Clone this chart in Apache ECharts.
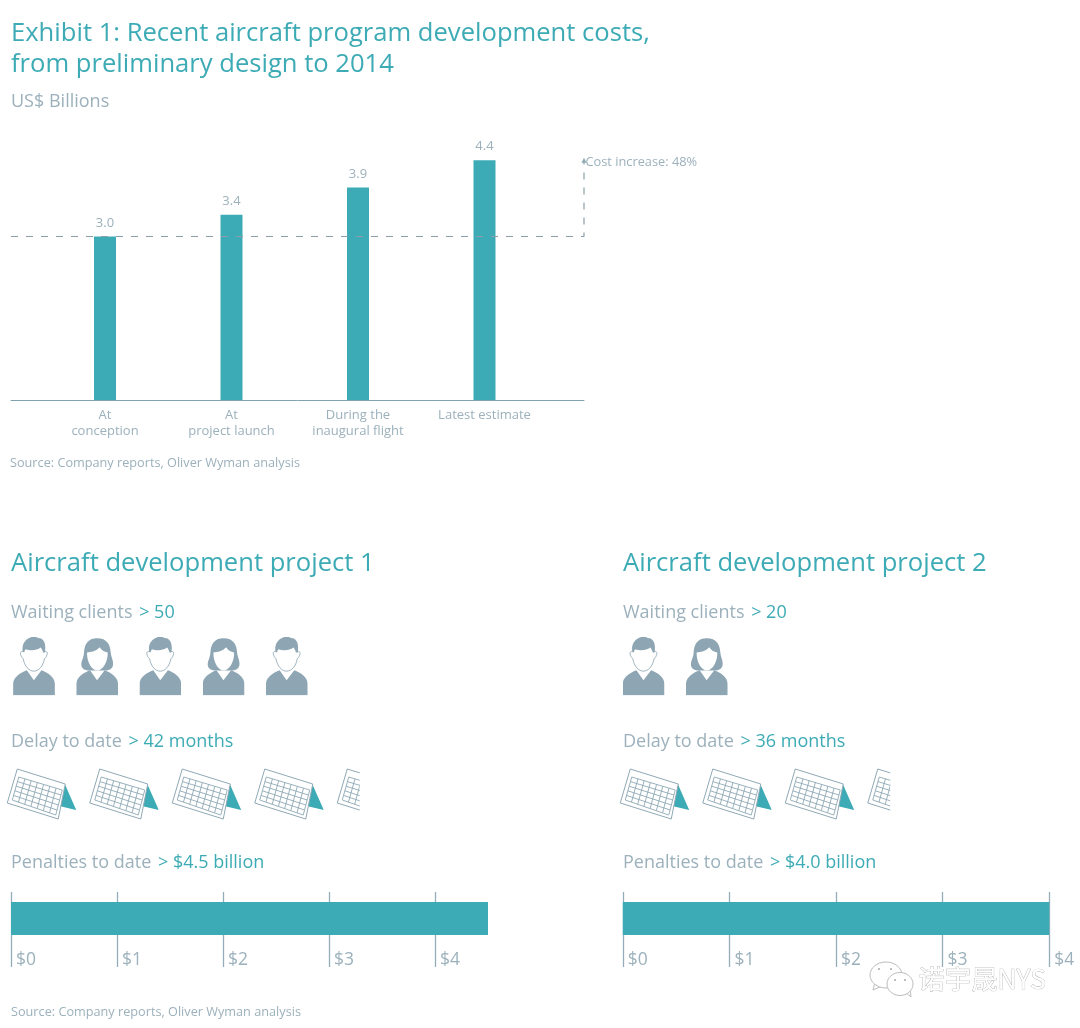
<!DOCTYPE html>
<html><head><meta charset="utf-8">
<style>html,body{margin:0;padding:0;background:#fff}#c{width:1080px;height:1028px}</style>
<script src="https://cdn.jsdelivr.net/npm/echarts@6/dist/echarts.min.js"></script>
</head><body><div id="c"></div>
<script>
// ---- data ----
const stageLabels = ['At\nconception', 'At\nproject launch', 'During the\ninaugural flight', 'Latest estimate'];
const costValues = [3.0, 3.4, 3.9, 4.4];
const referencePath = [[0, 3.0], [1, 3.0], [1, 4.4]];
const costNote = 'Cost increase: 48%';
const clientIconsP1 = ['m', 'f', 'm', 'f', 'm'];
const clientIconsP2 = ['m', 'f'];
const calendarIconsP1 = 4.36;
const calendarIconsP2 = 3.36;
const penaltyP1 = 4.5;
const penaltyP2 = 4.0;
const penaltyTicks = [0, 1, 2, 3, 4];
const penaltyAxisMaxP1 = 5;
const penaltyAxisMaxP2 = 4;

const TEAL = '#3dabb5', BAR = '#3cabb5', GREY = '#9cb1bc', ICON = '#8ea6b3', LINE = '#8fa8b4';
const FONT = '"Open Sans","Noto Sans",sans-serif';

// ---- icons ----
const BODY = 'M0 176V142C0 122 22 108 41 101L62 131L85 101C104 108 125 122 125 142V176Z';
const svgMale = `<svg xmlns="http://www.w3.org/2000/svg" width="42" height="59" viewBox="0 0 125 177">
<path d="${BODY}" fill="${ICON}"/>
<path d="M23 56C19 48 25 42 30 46L31 30H94V46C100 42 105 48 101 56C99 62 97 65 94 66C90 90 76 104 62 104C48 104 34 90 30 66C28 65 25 62 23 56Z" fill="#fff" stroke="${ICON}" stroke-width="2.5"/>
<path d="M29 46C24 20 40 3 62 0C70 0 74 6 84 6C94 12 99 24 95 48L90 48C88 42 86 38 83 33C68 44 50 42 38 38C35 40 34 44 33 48Z" fill="${ICON}"/></svg>`;
const svgFemale = `<svg xmlns="http://www.w3.org/2000/svg" width="42" height="59" viewBox="0 0 125 177">
<path d="${BODY}" fill="${ICON}"/>
<path d="M62 5C92 5 102 24 103 48C105 64 112 74 110 86C108 96 100 101 90 102H35C22 101 14 94 15 82C16 70 22 64 23 48C24 24 34 5 62 5Z" fill="${ICON}"/>
<path d="M32 48C44 46 60 44 70 32C74 40 84 46 94 48C95 78 78 102 63 102C47 102 31 78 32 48Z" fill="#fff"/></svg>`;

function calendarSvg() {
  const A = [11, 1], B = [59, 16], C = [52, 51], D = [1, 35];       // outer sheet
  const a = [12.5, 9], b = [56, 22], c = [49.5, 47], d = [6, 32];   // inner table
  const mix = (p, q, t) => [p[0] + (q[0] - p[0]) * t, p[1] + (q[1] - p[1]) * t];
  let lines = '';
  for (let i = 0; i <= 7; i++) {
    const s = mix(a, b, i / 7), e = mix(d, c, i / 7);
    lines += `M${s[0]} ${s[1]}L${e[0]} ${e[1]}`;
  }
  for (let j = 0; j <= 5; j++) {
    const s = mix(a, d, j / 5), e = mix(b, c, j / 5);
    lines += `M${s[0]} ${s[1]}L${e[0]} ${e[1]}`;
  }
  return `<svg xmlns="http://www.w3.org/2000/svg" width="70" height="52" viewBox="0 0 70 52">
<path d="M59 17L70 42L53 38Z" fill="${BAR}"/>
<path d="M${A}L${B}L${C}L${D}Z" fill="#fff" stroke="${LINE}" stroke-width="1"/>
<path d="${lines}" fill="none" stroke="${LINE}" stroke-width="0.9"/></svg>`;
}
const img = s => 'image://data:image/svg+xml;charset=utf-8,' + encodeURIComponent(s);
const maleSym = img(svgMale), femaleSym = img(svgFemale), calSym = img(calendarSvg());

// ---- layout ----
const grids = [], xAxes = [], yAxes = [], series = [];
function addGrid(g, x, y) {
  grids.push(Object.assign({ containLabel: false }, g));
  const i = grids.length - 1;
  xAxes.push(Object.assign({ gridIndex: i }, x));
  yAxes.push(Object.assign({ gridIndex: i }, y));
  return i;
}
const off = { show: false };
const hiddenVal = { type: 'value', axisLine: off, axisTick: off, axisLabel: off, splitLine: off };

// main bars
const gBars = addGrid({ left: 41.75, top: 127.5, width: 506, height: 272.5 },
  { type: 'category', data: stageLabels, axisLine: off, axisTick: off,
    axisLabel: { color: GREY, fontFamily: FONT, fontSize: 13, lineHeight: 16, margin: 7, interval: 0 } },
  Object.assign({}, hiddenVal, { min: 0, max: 5 }));
series.push({ type: 'bar', xAxisIndex: gBars, yAxisIndex: gBars, data: costValues, barWidth: 22,
  itemStyle: { color: BAR },
  label: { show: true, position: 'top', distance: 7, color: GREY, fontFamily: FONT, fontSize: 13,
    formatter: p => p.value.toFixed(1) } });

// reference line & baseline
const gRef = addGrid({ left: 11, top: 127.5, width: 573, height: 272.5 },
  { type: 'value', min: 0, max: 1, axisLine: { show: true, onZero: false, lineStyle: { color: '#7ea3ae', width: 1 } },
    axisTick: off, axisLabel: off, splitLine: off },
  Object.assign({}, hiddenVal, { min: 0, max: 5 }));
series.push({ type: 'line', xAxisIndex: gRef, yAxisIndex: gRef, z: 5, silent: true,
  showSymbol: true, symbol: 'none',
  lineStyle: { color: '#8a9fa9', width: 1.2, type: [7, 8] },
  data: referencePath.map((v, i) => i === referencePath.length - 1
    ? { value: v, symbol: 'triangle', symbolSize: 5, itemStyle: { color: LINE },
        label: { show: true, position: 'right', distance: 0, offset: [-1, 2.5], formatter: costNote,
          color: GREY, fontFamily: FONT, fontSize: 12.8 } }
    : { value: v }) });

// clients
function addClients(left, icons) {
  const g = addGrid({ left, top: 636, width: icons.length * 63.2, height: 60 },
    { type: 'category', data: icons.map((_, i) => i), axisLine: off, axisTick: off, axisLabel: off },
    Object.assign({}, hiddenVal, { min: 0, max: 2 }));
  series.push({ type: 'scatter', xAxisIndex: g, yAxisIndex: g, silent: true, symbolSize: [42, 59],
    itemStyle: { opacity: 1 },
    data: icons.map((k, i) => ({ value: [i, 1], symbol: k === 'm' ? maleSym : femaleSym })) });
}
addClients(2.4, clientIconsP1);
addClients(612, clientIconsP2);

// calendars
function addCalendars(left, v) {
  const g = addGrid({ left, top: 768, width: 412.5, height: 52 },
    Object.assign({}, hiddenVal, { min: 0, max: 5 }),
    { type: 'category', data: ['delay'], axisLine: off, axisTick: off, axisLabel: off });
  series.push({ type: 'pictorialBar', xAxisIndex: g, yAxisIndex: g, silent: true, data: [v],
    symbol: calSym, symbolSize: [70, 52], symbolRepeat: true, symbolMargin: '9%!', symbolClip: true,
    symbolPosition: 'start' });
}
addCalendars(0, calendarIconsP1);
addCalendars(613, calendarIconsP2);

// penalties
function addPenalty(left, unit, v, max) {
  const tickStyle = { color: '#93aeb9', width: 1.3 };
  const g = addGrid({ left, top: 892, width: max * unit, height: 53 },
    { type: 'value', min: 0, max, interval: 1,
      axisLine: off,
      axisTick: { show: true, length: 22, customValues: penaltyTicks, lineStyle: tickStyle },
      splitLine: { show: true, showMinLine: true, showMaxLine: true, lineStyle: tickStyle },
      axisLabel: { show: true, margin: 6, customValues: penaltyTicks, align: 'left', hideOverlap: false,
        color: GREY, fontFamily: FONT, fontSize: 17.5, padding: [0, 0, 0, 5], formatter: '${value}' } },
    { type: 'category', data: ['penalty'], axisLine: off, axisTick: off, axisLabel: off });
  series.push({ type: 'bar', xAxisIndex: g, yAxisIndex: g, silent: true, data: [v], barWidth: 33,
    itemStyle: { color: BAR }, z: 3 });
}
addPenalty(11, 106, penaltyP1, penaltyAxisMaxP1);
addPenalty(622.8, 106.6, penaltyP2, penaltyAxisMaxP2);

// ---- text ----
const txt = (left, cy, text, size, color, extra) => ({
  left, top: cy + 1.5 - size * 0.7, padding: 0, text,
  textStyle: Object.assign({ color, fontFamily: FONT, fontSize: size, fontWeight: 400, lineHeight: size * 1.4 }, extra || {})
});
const rich = (size) => ({ rich: {
  a: { color: GREY, fontFamily: FONT, fontSize: size, lineHeight: size * 1.4 },
  b: { color: TEAL, fontFamily: FONT, fontSize: size, lineHeight: size * 1.4, padding: [0, 0, 0, 2] } } });
const HEAD = 25.6, SUB = 18, SRC = 12.7;
const titles = [
  txt(11, 32, 'Exhibit 1: Recent aircraft program development costs,', HEAD, TEAL),
  txt(11, 63, 'from preliminary design to 2014', HEAD, TEAL),
  txt(11, 100, 'US$ Billions', SUB, GREY),
  txt(10, 462, 'Source: Company reports, Oliver Wyman analysis', SRC, GREY),
  txt(11, 562, 'Aircraft development project 1', HEAD, TEAL),
  txt(623, 562, 'Aircraft development project 2', HEAD, TEAL),
  txt(11, 611, '{a|Waiting clients} {b|> 50}', SUB, GREY, rich(SUB)),
  txt(623, 611, '{a|Waiting clients} {b|> 20}', SUB, GREY, rich(SUB)),
  txt(11, 740, '{a|Delay to date} {b|> 42 months}', SUB, GREY, rich(SUB)),
  txt(623, 740, '{a|Delay to date} {b|> 36 months}', SUB, GREY, rich(SUB)),
  txt(11, 861, '{a|Penalties to date} {b|> $4.5 billion}', SUB, GREY, rich(SUB)),
  txt(623, 861, '{a|Penalties to date} {b|> $4.0 billion}', SUB, GREY, rich(SUB)),
  txt(11, 1011, 'Source: Company reports, Oliver Wyman analysis', SRC, GREY)
];

// watermark
const wm = { fill: '#fff', stroke: '#bdbdbd', lineWidth: 1 };
const dot = { fill: '#a8a8a8' };
const graphic = [
  { type: 'polygon', shape: { points: [[875, 982], [873, 990], [882, 986]] }, style: wm },
  { type: 'ellipse', shape: { cx: 886, cy: 975, rx: 16, ry: 13 }, style: wm },
  { type: 'polygon', shape: { points: [[905, 992], [911, 997], [910, 988]] }, style: wm },
  { type: 'ellipse', shape: { cx: 900, cy: 984, rx: 13, ry: 11.5 }, style: wm },
  { type: 'circle', shape: { cx: 879, cy: 969, r: 1 }, style: dot },
  { type: 'circle', shape: { cx: 891, cy: 969, r: 1 }, style: dot },
  { type: 'circle', shape: { cx: 895, cy: 980, r: 1 }, style: dot },
  { type: 'circle', shape: { cx: 905, cy: 980, r: 1 }, style: dot },
  { type: 'text', left: 918, top: 965, style: { text: '诺宇晟NYS', fill: '#fff', stroke: '#a8a8a8', lineWidth: 0.7,
    font: '26.4px "Noto Sans CJK SC", sans-serif' } }
];

echarts.init(document.getElementById('c'), null, { renderer: 'canvas' }).setOption({
  animation: false, backgroundColor: '#fff',
  title: titles, grid: grids, xAxis: xAxes, yAxis: yAxes, series, graphic
});
</script></body></html>
